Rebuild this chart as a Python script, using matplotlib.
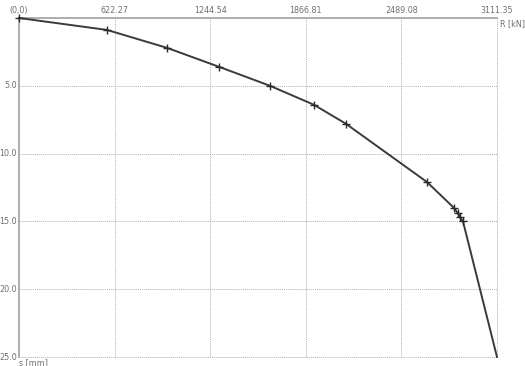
import numpy as np
import matplotlib.pyplot as plt

# load-settlement curve
R_kN = [0, 573, 963, 1302, 1634, 1920, 2128, 2656, 2831, 2857, 2870, 2890, 3111.35]
s_mm = [0, 0.88, 2.2, 3.6, 5.0, 6.4, 7.8, 12.1, 14.0, 14.4, 14.7, 15.0, 25.0]
marked = 12  # last point has no marker

x_ticks = [622.27, 1244.54, 1866.81, 2489.08, 3111.35]
x_labels = ['622.27', '1244.54', '1866.81', '2489.08', '3111.35']
y_ticks = [5.0, 10.0, 15.0, 20.0, 25.0]
y_labels = ['5.0', '10.0', '15.0', '20.0', '25.0']

W, H = 525, 366
fig = plt.figure(figsize=(W / 100, H / 100), dpi=100)
ax = fig.add_axes([19 / W, 1 - 357 / H, (497 - 19) / W, (357 - 18) / H])
ax.set_xlim(0, 3111.35)
ax.set_ylim(25, 0)

txt = '#707070'
grid = '#b0b0b0'
fs = 5.8

for sp in ['right', 'bottom']:
    ax.spines[sp].set_visible(False)
for sp in ['top', 'left']:
    ax.spines[sp].set_color('#a0a0a0')
    ax.spines[sp].set_linewidth(1.2)
ax.set_xticks([])
ax.set_yticks([])

# dotted grid
for x in x_ticks:
    ax.axvline(x, color=grid, ls=(0, (1, 1)), lw=0.7, clip_on=False, zorder=0)
for y in y_ticks:
    ax.axhline(y, color=grid, ls=(0, (1, 1)), lw=0.7, clip_on=False, zorder=0)

# tick labels above top axis / left of left axis
for x, lab in zip(x_ticks, x_labels):
    ax.text(x, -0.25, lab, ha='center', va='bottom', fontsize=fs, color=txt)
ax.text(0, -0.25, '(0,0)', ha='center', va='bottom', fontsize=fs, color=txt)
for y, lab in zip(y_ticks, y_labels):
    ax.text(-15, y, lab, ha='right', va='center', fontsize=fs, color=txt)
ax.text(3130, 0.45, 'R [kN]', ha='left', va='center', fontsize=fs, color=txt)
ax.text(0, 25.1, 's [mm]', ha='left', va='top', fontsize=fs, color=txt)

ax.plot(R_kN, s_mm, color='#3a3a3a', lw=1.4, clip_on=False, zorder=3)
ax.plot(R_kN[:marked], s_mm[:marked], ls='none', marker='+', ms=6, mew=1.0,
        color='#2a2a2a', clip_on=False, zorder=4)

fig.savefig('out.png', dpi=100, facecolor='white')
